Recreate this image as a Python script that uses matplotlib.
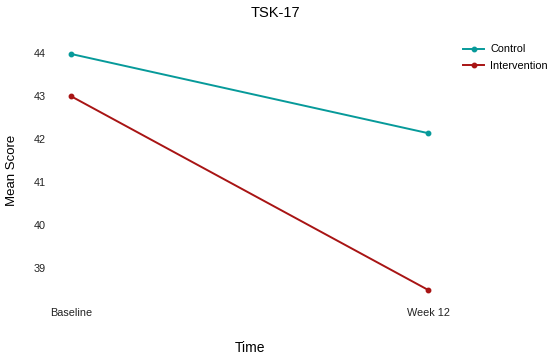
import matplotlib.pyplot as plt

plt.rcParams['font.family'] = ['Liberation Sans', 'DejaVu Sans']

time_labels = ['Baseline', 'Week 12']
control = [43.98, 42.14]
intervention = [43.0, 38.5]

fig = plt.figure(figsize=(5.5, 3.57), dpi=100)
ax = fig.add_axes([53 / 550, 1 - 302 / 357, (446 - 53) / 550, (302 - 41) / 357])

x = range(len(time_labels))
ax.plot(x, control, color='#079a9a', lw=1.4, marker='o', ms=3.2, label='Control')
ax.plot(x, intervention, color='#a81414', lw=1.4, marker='o', ms=3.2, label='Intervention')

ax.set_xlim(-0.05, 1.05)
ax.set_ylim(38.22, 44.28)
ax.set_xticks(list(x))
ax.set_xticklabels(time_labels)
ax.set_yticks([39, 40, 41, 42, 43, 44])
ax.tick_params(length=0, labelsize=7.8, colors='#222222', pad=4)
ax.tick_params(axis='y', pad=5)
for s in ax.spines.values():
    s.set_visible(False)

fig.text(275 / 550, 1 - 13 / 357, 'TSK-17', ha='center', va='center', fontsize=10.5)
fig.text(250 / 550, 1 - 348 / 357, 'Time', ha='center', va='center', fontsize=10)
fig.text(12 / 550, 1 - 170 / 357, 'Mean Score', ha='center', va='center', fontsize=9.5, rotation=90)

ax.legend(loc='upper left', bbox_to_anchor=(459 / 550, 1 - 40 / 357), bbox_transform=fig.transFigure,
          frameon=False, fontsize=7.8, handlelength=1.9, handletextpad=0.6, labelspacing=0.6,
          borderaxespad=0)

fig.savefig('out.png', dpi=100)
